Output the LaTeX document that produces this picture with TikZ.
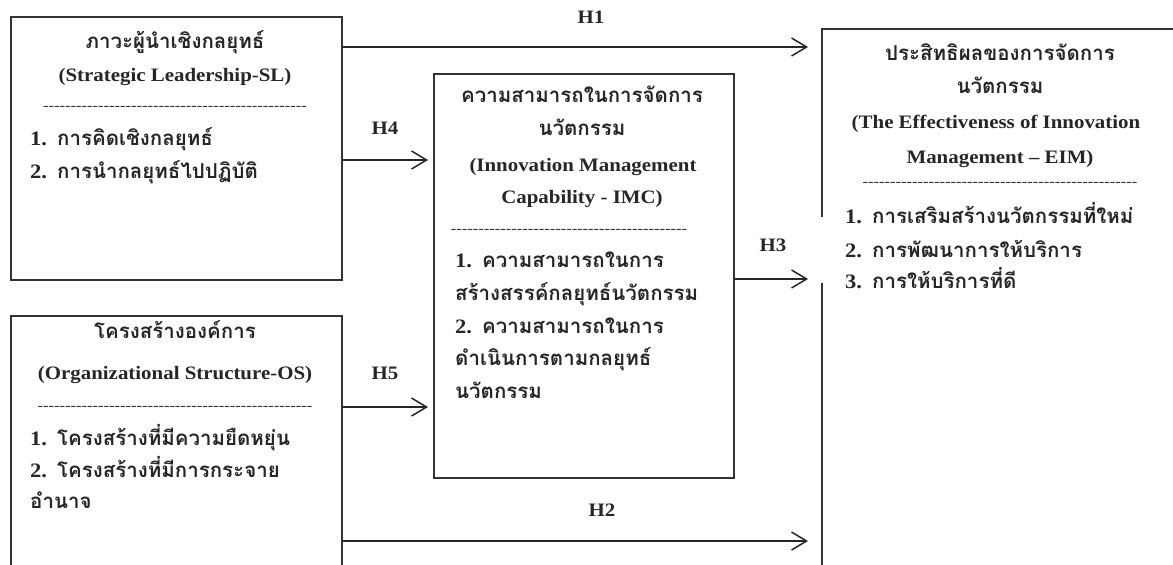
\documentclass[tikz,border=0pt]{standalone}
\usepackage{fontspec}
\setmainfont{Liberation Serif}[FakeStretch=1.1]
\newfontfamily\thaif[Script=Thai]{Loma}
\usetikzlibrary{arrows.meta}
\newcommand\dashes[1]{\foreach \i in {1,...,#1}{\mbox{-}}}
\newcommand\nm[1]{{\rmfamily\bfseries #1}\hspace{10pt}}
\begin{document}
\begin{tikzpicture}[x=1pt,y=-1pt,
  box/.style={draw=black!80, line width=1.5pt, inner sep=0pt},
  th/.style={font=\thaif\bfseries\fontsize{20.5}{22}\selectfont, text=black!85, inner sep=0pt, text height=10pt, text depth=0pt},
  thc/.style={th, anchor=center},
  thl/.style={th, anchor=west},
  en/.style={font=\bfseries\fontsize{19}{21}\selectfont, text=black!85, inner sep=0pt, text height=12.5pt, text depth=0pt, anchor=center},
  dsh/.style={font=\fontsize{15}{18}\selectfont, text=black!80, inner sep=0pt, text height=6pt, text depth=0pt, anchor=center},
  lab/.style={en},
  arr/.style={draw=black!85, line width=1.5pt, -{Straight Barb[length=15pt,width=18pt,line width=1.5pt]}}
]
\useasboundingbox (0,0) rectangle (1173,565);
\clip (0,0) rectangle (1173,565);

% boxes
\node[box, anchor=north west, minimum width=331pt, minimum height=263pt] (sl) at (10,16) {};
\node[box, anchor=north west, minimum width=331pt, minimum height=300pt] (os) at (10,315) {};
\node[box, anchor=north west, minimum width=300pt, minimum height=404pt] (imc) at (433,73) {};
\node[anchor=north west, minimum width=420pt, minimum height=600pt, inner sep=0pt] (eim) at (822,29) {};
\draw[box] ([yshift=-188pt]eim.north west) -- (eim.north west) -- (eim.north east) -- (eim.south east) -- (eim.south west) -- ([yshift=-254pt]eim.north west);

% SL text
\node[thc] (slt) at (175,43) {ภาวะผู้นำเชิงกลยุทธ์};
\node[en] (sle) at (175,75) {(Strategic Leadership-SL)};
\node[dsh] (sld) at (175,107) {\dashes{48}};
\node[thl] (sl1) at (30,140) {\nm{1.}การคิดเชิงกลยุทธ์};
\node[thl] (sl2) at (30,173) {\nm{2.}การนำกลยุทธ์ไปปฏิบัติ};

% OS text
\node[thc] (ost) at (175,333) {โครงสร้างองค์การ};
\node[en] (ose) at (175,373) {(Organizational Structure-OS)};
\node[dsh] (osd) at (175,407) {\dashes{50}};
\node[thl] (os1) at (30,440) {\nm{1.}โครงสร้างที่มีความยืดหยุ่น};
\node[thl] (os2) at (30,472) {\nm{2.}โครงสร้างที่มีการกระจาย};
\node[thl] (os3) at (30,503) {อำนาจ};

% IMC text
\node[thc] (imt1) at (582,97) {ความสามารถในการจัดการ};
\node[thc] (imt2) at (582,130) {นวัตกรรม};
\node[en] (ime1) at (583,165) {(Innovation Management};
\node[en] (ime2) at (582,197) {Capability - IMC)};
\node[dsh] (imd) at (569,230) {\dashes{43}};
\node[thl] (im1) at (455,262) {\nm{1.}ความสามารถในการ};
\node[thl] (im2) at (455,295) {สร้างสรรค์กลยุทธ์นวัตกรรม};
\node[thl] (im3) at (455,328) {\nm{2.}ความสามารถในการ};
\node[thl] (im4) at (455,360) {ดำเนินการตามกลยุทธ์};
\node[thl] (im5) at (455,393) {นวัตกรรม};

% EIM text
\node[thc] (eit1) at (1000,55) {ประสิทธิผลของการจัดการ};
\node[thc] (eit2) at (1000,88) {นวัตกรรม};
\node[en] (eie1) at (996,122) {(The Effectiveness of Innovation};
\node[en] (eie2) at (1000,157) {Management – EIM)};
\node[dsh] (eid) at (1000,183) {\dashes{50}};
\node[thl] (ei1) at (845,218) {\nm{1.}การเสริมสร้างนวัตกรรมที่ใหม่};
\node[thl] (ei2) at (845,252) {\nm{2.}การพัฒนาการให้บริการ};
\node[thl] (ei3) at (845,283) {\nm{3.}การให้บริการที่ดี};

% connectors
\draw[arr, shorten >=14pt] ([yshift=-31pt]sl.north east) -- ([yshift=-18pt]eim.north west);
\draw[arr, shorten >=5pt] ([yshift=-144pt]sl.north east) -- ([yshift=-87pt]imc.north west);
\draw[arr, shorten >=5pt] ([yshift=-92pt]os.north east) -- ([yshift=-334pt]imc.north west);
\draw[arr, shorten >=14pt] ([yshift=-226pt]os.north east) -- ([yshift=-512pt]eim.north west);
\draw[arr, shorten >=14pt] ([yshift=-206pt]imc.north east) -- ([yshift=-250pt]eim.north west);

% labels
\node[lab] (h1) at (591,17) {H1};
\node[lab] (h4) at (385,128) {H4};
\node[lab] (h5) at (385,373) {H5};
\node[lab] (h2) at (602,510) {H2};
\node[lab] (h3) at (773,245) {H3};
\end{tikzpicture}
\end{document}
